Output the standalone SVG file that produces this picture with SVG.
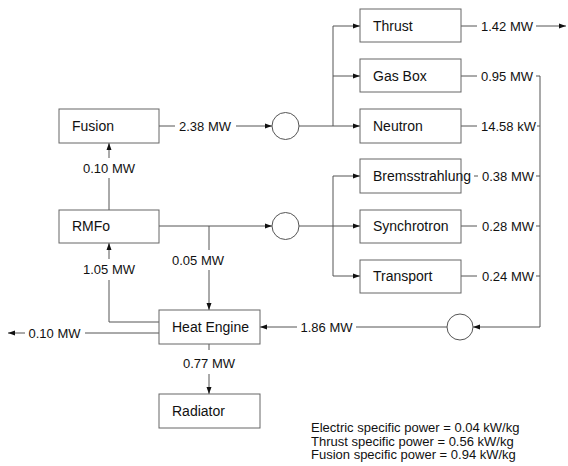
<svg xmlns="http://www.w3.org/2000/svg" width="568" height="466" viewBox="0 0 568 466">
<style>
.box{fill:#fff;stroke:#666;stroke-width:1}
.bt{font-family:"Liberation Sans",Arial,sans-serif;font-size:14px;fill:#111}
.lb{font-family:"Liberation Sans",Arial,sans-serif;font-size:13px;fill:#111}
.ln{fill:none;stroke:#555;stroke-width:1}
.ar{fill:none;stroke:#555;stroke-width:1;marker-end:url(#ah)}
.cir{fill:#fff;stroke:#555;stroke-width:1}
</style>
<defs>
<marker id="ah" viewBox="0 0 7 6" refX="7" refY="3" markerWidth="7" markerHeight="6" markerUnits="userSpaceOnUse" orient="auto">
<path d="M0,0.5 L7,3 L0,5.5 Z" fill="#111"/>
</marker>
</defs>
<rect width="568" height="466" fill="#fff"/>
<g id="connectors">
<path class="ln" d="M159,126 H175"/>
<text class="lb" x="205" y="130.5" text-anchor="middle">2.38 MW</text>
<path class="ar" d="M236,126 H272"/>
<path class="ln" d="M299,126 H333 M333,26 V126"/>
<path class="ar" d="M333,26 H360"/>
<path class="ar" d="M333,76 H360"/>
<path class="ar" d="M333,126 H360"/>
<path class="ln" d="M461,26 H477"/>
<text class="lb" x="481" y="30.5">1.42 MW</text>
<path class="ar" d="M536,26 H566"/>
<path class="ln" d="M461,76 H477"/>
<text class="lb" x="481" y="80.5">0.95 MW</text>
<path class="ln" d="M536,76 H540 V327"/>
<path class="ln" d="M461,126 H477"/>
<text class="lb" x="481" y="130.5">14.58 kW</text>
<path class="ln" d="M537,126 H540"/>
<path class="ar" d="M159,226 H272"/>
<path class="ln" d="M299,226 H333 M333,176 V276"/>
<path class="ar" d="M333,176 H360"/>
<path class="ar" d="M333,226 H360"/>
<path class="ar" d="M333,276 H360"/>
<path class="ln" d="M474,176 H478"/>
<text class="lb" x="482" y="180.5">0.38 MW</text>
<path class="ln" d="M536,176 H540"/>
<path class="ln" d="M461,226 H477"/>
<text class="lb" x="482" y="230.5">0.28 MW</text>
<path class="ln" d="M536,226 H540"/>
<path class="ln" d="M461,276 H477"/>
<text class="lb" x="482" y="280.5">0.24 MW</text>
<path class="ln" d="M536,276 H540"/>
<path class="ar" d="M540,327 H473"/>
<path class="ln" d="M447,327 H356"/>
<text class="lb" x="326.5" y="331.5" text-anchor="middle">1.86 MW</text>
<path class="ar" d="M297,327 H260"/>
<path class="ln" d="M209,226 V250"/>
<text class="lb" x="198" y="264.5" text-anchor="middle">0.05 MW</text>
<path class="ar" d="M209,270 V310"/>
<path class="ln" d="M109,210 V178"/>
<text class="lb" x="109" y="172.5" text-anchor="middle">0.10 MW</text>
<path class="ar" d="M109,158 V143"/>
<path class="ln" d="M159,322 H109 V280"/>
<text class="lb" x="109" y="273.5" text-anchor="middle">1.05 MW</text>
<path class="ar" d="M109,259 V243"/>
<path class="ln" d="M159,333 H85"/>
<text class="lb" x="54.5" y="337.5" text-anchor="middle">0.10 MW</text>
<path class="ar" d="M25,333 H8"/>
<path class="ln" d="M209,344 V350"/>
<text class="lb" x="209" y="367.5" text-anchor="middle">0.77 MW</text>
<path class="ar" d="M209,374 V394"/>
</g>
<g id="fusion"><rect class="box" x="59" y="109" width="100" height="34"/><text class="bt" x="72" y="131">Fusion</text></g>
<g id="rmfo"><rect class="box" x="59" y="210" width="100" height="33"/><text class="bt" x="72" y="231">RMFo</text></g>
<g id="heatengine"><rect class="box" x="159" y="310" width="101" height="34"/><text class="bt" x="172" y="332">Heat Engine</text></g>
<g id="radiator"><rect class="box" x="159" y="394" width="101" height="34"/><text class="bt" x="172" y="416">Radiator</text></g>
<g id="thrust"><rect class="box" x="360" y="9" width="101" height="33"/><text class="bt" x="373" y="31">Thrust</text></g>
<g id="gasbox"><rect class="box" x="360" y="59" width="101" height="33"/><text class="bt" x="373" y="81">Gas Box</text></g>
<g id="neutron"><rect class="box" x="360" y="109" width="101" height="34"/><text class="bt" x="373" y="131">Neutron</text></g>
<g id="bremsstrahlung"><rect class="box" x="360" y="159" width="101" height="34"/><text class="bt" x="373" y="181">Bremsstrahlung</text></g>
<g id="synchrotron"><rect class="box" x="360" y="210" width="101" height="33"/><text class="bt" x="373" y="231">Synchrotron</text></g>
<g id="transport"><rect class="box" x="360" y="260" width="101" height="33"/><text class="bt" x="373" y="281">Transport</text></g>
<g id="junction1"><circle class="cir" cx="285.5" cy="126" r="13.5"/></g>
<g id="junction2"><circle class="cir" cx="285.5" cy="226" r="13.5"/></g>
<g id="junction3"><circle class="cir" cx="460" cy="327" r="13"/></g>
<g id="summary">
<text class="lb" x="311" y="432">Electric specific power = 0.04 kW/kg</text>
<text class="lb" x="311" y="445.5">Thrust specific power = 0.56 kW/kg</text>
<text class="lb" x="311" y="459">Fusion specific power = 0.94 kW/kg</text>
</g>
</svg>
